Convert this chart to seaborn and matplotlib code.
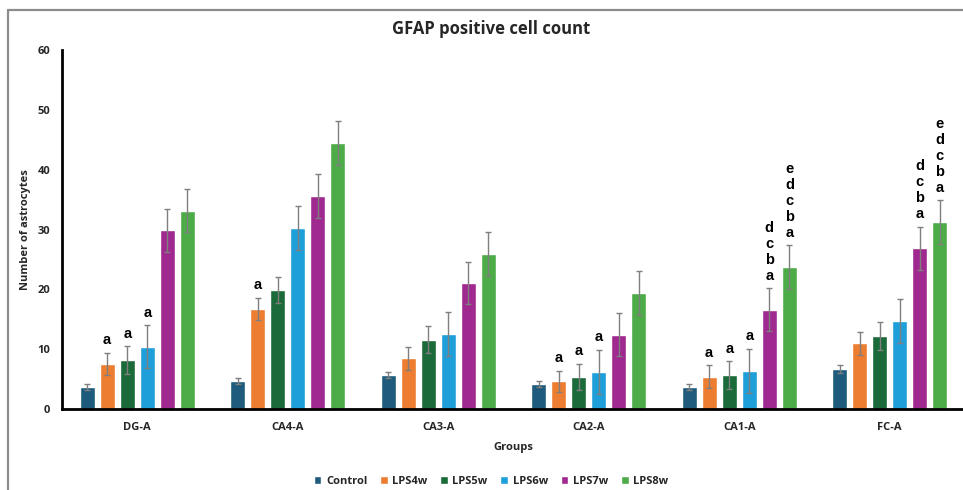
import matplotlib
matplotlib.use("Agg")
import matplotlib.pyplot as plt
from matplotlib.lines import Line2D
import seaborn as sns
import pandas as pd

groups = ["DG-A", "CA4-A", "CA3-A", "CA2-A", "CA1-A", "FC-A"]
series = ["Control", "LPS4w", "LPS5w", "LPS6w", "LPS7w", "LPS8w"]
colors = ["#1F5B7C", "#ED7D31", "#1B6B3A", "#1E9FD9", "#A0298F", "#4DAB48"]

control = [3.7, 4.7, 5.7, 4.1, 3.7, 6.7]
lps4w = [7.5, 16.7, 8.5, 4.6, 5.4, 11.0]
lps5w = [8.2, 19.9, 11.6, 5.4, 5.7, 12.2]
lps6w = [10.4, 30.3, 12.5, 6.2, 6.4, 14.7]
lps7w = [29.9, 35.6, 21.1, 12.4, 16.6, 26.9]
lps8w = [33.1, 44.4, 25.9, 19.4, 23.7, 31.2]

err_control = [0.5, 0.5, 0.5, 0.5, 0.5, 0.6]
err_lps4w = [1.9, 1.9, 1.9, 1.8, 1.9, 1.9]
err_lps5w = [2.3, 2.2, 2.2, 2.2, 2.3, 2.3]
err_lps6w = [3.6, 3.7, 3.7, 3.7, 3.7, 3.7]
err_lps7w = [3.6, 3.6, 3.5, 3.6, 3.6, 3.6]
err_lps8w = [3.6, 3.7, 3.7, 3.7, 3.7, 3.7]

letters_lps4w = ["a", "a", "", "a", "a", ""]
letters_lps5w = ["a", "", "", "a", "a", ""]
letters_lps6w = ["a", "", "", "a", "a", ""]
letters_lps7w = ["", "", "", "", "d\nc\nb\na", "d\nc\nb\na"]
letters_lps8w = ["", "", "", "", "e\nd\nc\nb\na", "e\nd\nc\nb\na"]

values = [control, lps4w, lps5w, lps6w, lps7w, lps8w]
errors = [err_control, err_lps4w, err_lps5w, err_lps6w, err_lps7w, err_lps8w]
letters = [[""] * 6, letters_lps4w, letters_lps5w, letters_lps6w, letters_lps7w, letters_lps8w]

rows = []
for s, vals in zip(series, values):
    for g, v in zip(groups, vals):
        rows.append({"Group": g, "Series": s, "Value": v})
df = pd.DataFrame(rows)

sns.set_theme(style="white")
plt.rcParams["font.family"] = ["Open Sans", "DejaVu Sans"]

fig = plt.figure(figsize=(9.63, 4.90), dpi=100)
ax = fig.add_axes([62 / 963, 1 - 409 / 490, 903 / 963, (409 - 50) / 490])

sns.barplot(data=df, x="Group", y="Value", hue="Series", order=groups,
            hue_order=series, palette=colors, width=0.8, gap=0.25,
            errorbar=None, saturation=1, ax=ax, legend=True)

bar_containers = list(ax.containers)
for i, cont in enumerate(bar_containers):
    xs = [b.get_x() + b.get_width() / 2 for b in cont]
    ax.errorbar(xs, values[i], yerr=errors[i], fmt="none", ecolor="#7F7F7F",
                elinewidth=1.0, capsize=2.5, capthick=1.0, zorder=5)
    for x, v, e, t in zip(xs, values[i], errors[i], letters[i]):
        if t:
            ax.annotate(t, xy=(x, v + e), xytext=(0, 4), textcoords="offset points",
                        ha="center", va="bottom", fontsize=10.5, fontweight="bold",
                        family=["Liberation Sans", "DejaVu Sans"], linespacing=1.18,
                        color="black")

ax.set_xlim(-0.5, 5.5)
ax.set_ylim(0, 60)
ax.set_yticks(range(0, 61, 10))
for sp in ["top", "right"]:
    ax.spines[sp].set_visible(False)
for sp in ["left", "bottom"]:
    ax.spines[sp].set_color("black")
    ax.spines[sp].set_linewidth(2)
ax.tick_params(axis="y", length=0, pad=8.5, labelsize=8)
ax.tick_params(axis="x", length=0, pad=9, labelsize=8)
for lab in ax.get_xticklabels() + ax.get_yticklabels():
    lab.set_fontweight("bold")
ax.set_xlabel("Groups", fontsize=8, fontweight="bold", labelpad=7)
ax.set_ylabel("Number of astrocytes", fontsize=8, fontweight="bold")
ax.yaxis.set_label_coords((31 - 62) / 903, 0.5)

handles, labels = ax.get_legend_handles_labels()
ax.legend_.remove()
fig.legend(handles, labels, loc="center", bbox_to_anchor=(491 / 963, 1 - 481 / 490),
           ncol=6, frameon=False, prop={"weight": "bold", "size": 8},
           handlelength=0.7, handleheight=0.7, handletextpad=0.4, columnspacing=1.15)

fig.text(491 / 963, 1 - 29 / 490, "GFAP positive cell count", ha="center", va="center",
         fontsize=12, fontweight="bold")

fig.add_artist(Line2D([8 / 963, 8 / 963], [0, 1 - 10 / 490], transform=fig.transFigure,
                      color="#8C8C8C", linewidth=1.6))
fig.add_artist(Line2D([8 / 963, 1], [1 - 10 / 490, 1 - 10 / 490], transform=fig.transFigure,
                      color="#8C8C8C", linewidth=1.6))

fig.savefig("out.png", dpi=100)
